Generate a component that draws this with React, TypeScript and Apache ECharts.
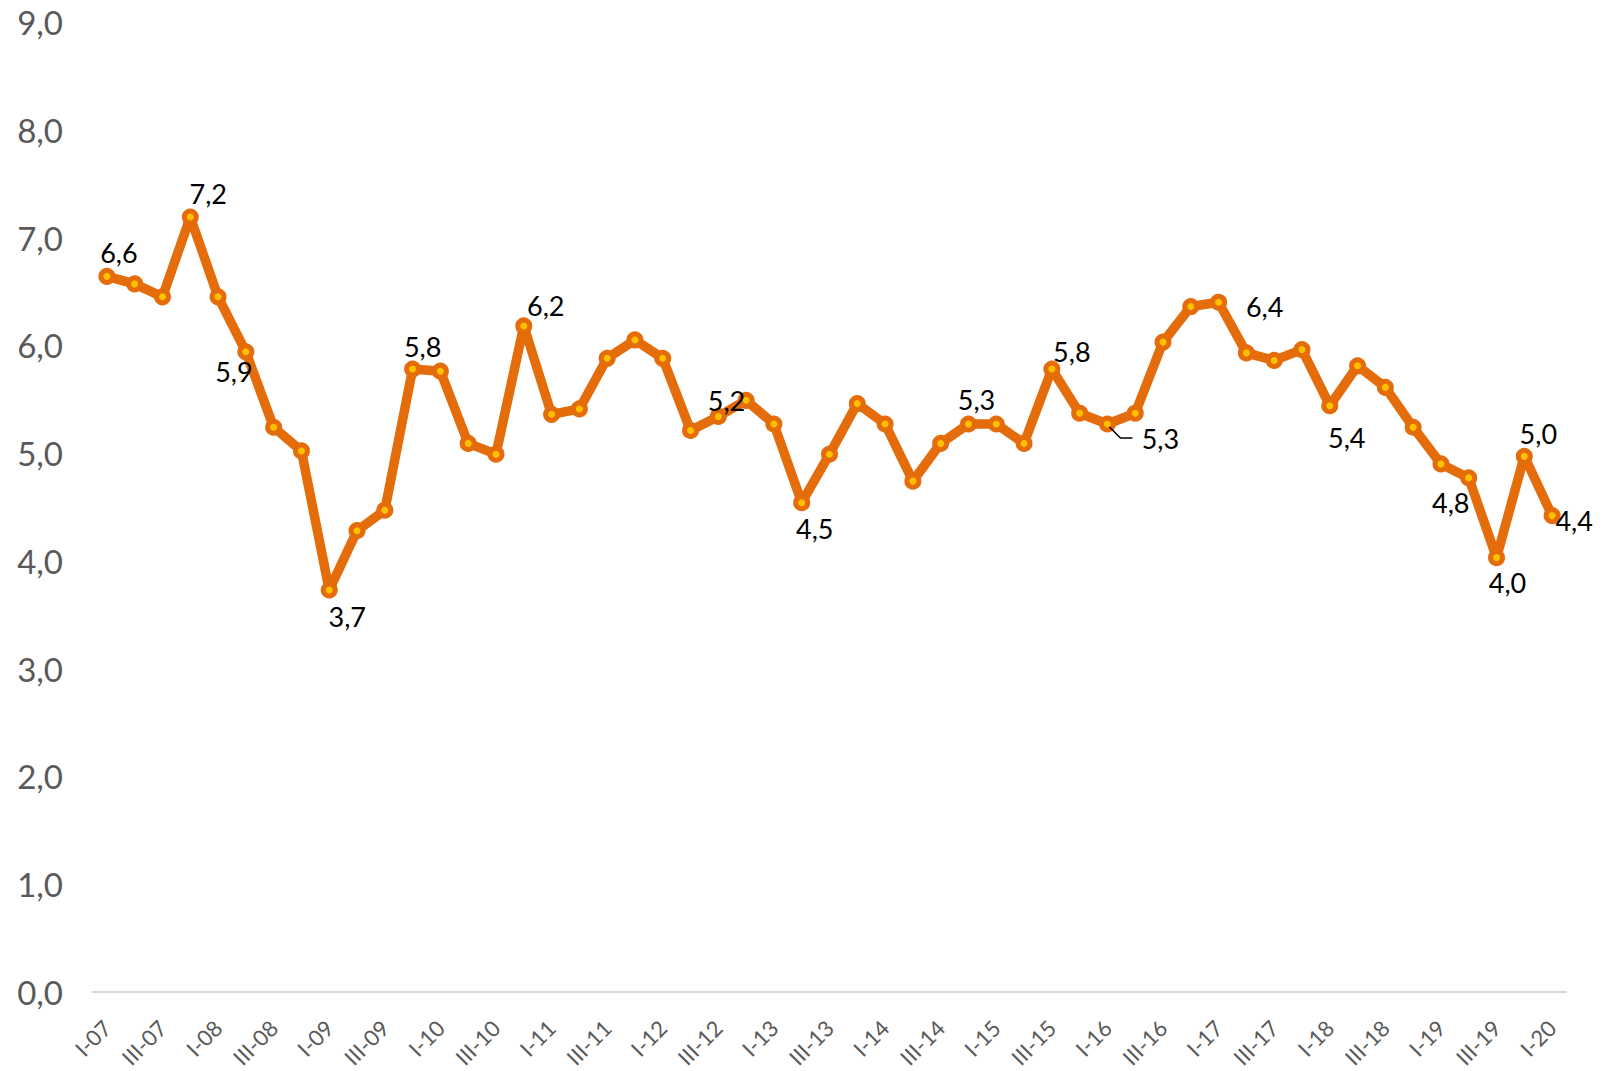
import { useEffect, useRef } from "react";
import * as echarts from "echarts";

const categories = [
  "I-07", "II-07", "III-07", "IV-07",
  "I-08", "II-08", "III-08", "IV-08",
  "I-09", "II-09", "III-09", "IV-09",
  "I-10", "II-10", "III-10", "IV-10",
  "I-11", "II-11", "III-11", "IV-11",
  "I-12", "II-12", "III-12", "IV-12",
  "I-13", "II-13", "III-13", "IV-13",
  "I-14", "II-14", "III-14", "IV-14",
  "I-15", "II-15", "III-15", "IV-15",
  "I-16", "II-16", "III-16", "IV-16",
  "I-17", "II-17", "III-17", "IV-17",
  "I-18", "II-18", "III-18", "IV-18",
  "I-19", "II-19", "III-19", "IV-19",
  "I-20",
];

const values = [
  6.64, 6.57, 6.45, 7.19,
  6.45, 5.94, 5.24, 5.02,
  3.73, 4.28, 4.47, 5.78,
  5.76, 5.09, 4.99, 6.18,
  5.36, 5.41, 5.88, 6.05,
  5.88, 5.21, 5.34, 5.49,
  5.27, 4.54, 4.99, 5.46,
  5.27, 4.74, 5.09, 5.27,
  5.27, 5.09, 5.78, 5.37,
  5.27, 5.37, 6.03, 6.36,
  6.4, 5.93, 5.86, 5.96,
  5.44, 5.81, 5.61, 5.24,
  4.9, 4.77, 4.03, 4.97,
  4.42,
];

const yMin = 0;
const yMax = 9;
const yInterval = 1;

// indices of points that carry a data label, with the label offset (style)
const labelOffsets: Record<number, [number, number]> = {
  0: [12, -24],
  3: [18, -24],
  5: [-12, 20],
  8: [18, 27],
  11: [10, -23],
  15: [22, -20],
  21: [36, -30],
  25: [13, 26],
  31: [8, -25],
  34: [20, -18],
  36: [53, 14],
  40: [46, 4],
  44: [17, 32],
  49: [-18, 25],
  50: [11, 25],
  51: [14, -23],
  52: [22, 5],
};
const leaderIndex = 36;

const fmt = (v: number) => v.toFixed(1).replace(".", ",");

export default function App() {
  const ref = useRef<HTMLDivElement>(null);
  useEffect(() => {
    if (!ref.current) return;
    const chart = echarts.init(ref.current, undefined, { renderer: "svg" });
    const data = values.map((v, i) =>
      labelOffsets[i]
        ? { value: v, label: { show: true, position: "inside", offset: labelOffsets[i] } }
        : v
    );
    chart.setOption({
      animation: false,
      backgroundColor: "#ffffff",
      grid: { left: 93, right: 40, top: 22, bottom: 79, containLabel: false },
      xAxis: {
        type: "category",
        data: categories,
        boundaryGap: true,
        axisLine: { show: true, lineStyle: { color: "#d9d9d9", width: 2 } },
        axisTick: { show: false },
        axisLabel: {
          interval: 1,
          rotate: 45,
          margin: 32,
          fontSize: 22,
          color: "#595959",
          fontFamily: "Lato",
        },
        splitLine: { show: false },
      },
      yAxis: {
        type: "value",
        min: yMin,
        max: yMax,
        interval: yInterval,
        axisLine: { show: false },
        axisTick: { show: false },
        splitLine: { show: false },
        axisLabel: {
          formatter: (v: number) => fmt(v),
          fontSize: 33,
          color: "#595959",
          fontFamily: "Lato",
          margin: 30,
        },
      },
      series: [
        {
          type: "line",
          data,
          lineStyle: { color: "#E46C0A", width: 9.5 },
          symbol: "circle",
          symbolSize: 12,
          itemStyle: { color: "#FFC000", borderColor: "#E46C0A", borderWidth: 5 },
          label: {
            show: false,
            formatter: (p: any) => fmt(p.value),
            fontSize: 27,
            color: "#000000",
            fontFamily: "Lato",
          },
          emphasis: { disabled: true },
          z: 3,
        },
      ],
    });
    const p = chart.convertToPixel({ xAxisIndex: 0, yAxisIndex: 0 }, [leaderIndex, values[leaderIndex]]) as number[];
    if (p) {
      chart.setOption({
        graphic: [
          {
            type: "polyline",
            shape: {
              points: [
                [p[0] + 2, p[1] + 3],
                [p[0] + 13, p[1] + 14],
                [p[0] + 25, p[1] + 14],
              ],
            },
            style: { stroke: "#000000", lineWidth: 1.5, fill: null },
            z: 10,
          },
        ],
      });
    }
    return () => chart.dispose();
  }, []);
  return (
    <div
      ref={ref}
      style={{ position: "absolute", left: 0, top: 0, width: 1606, height: 1071 }}
    />
  );
}
